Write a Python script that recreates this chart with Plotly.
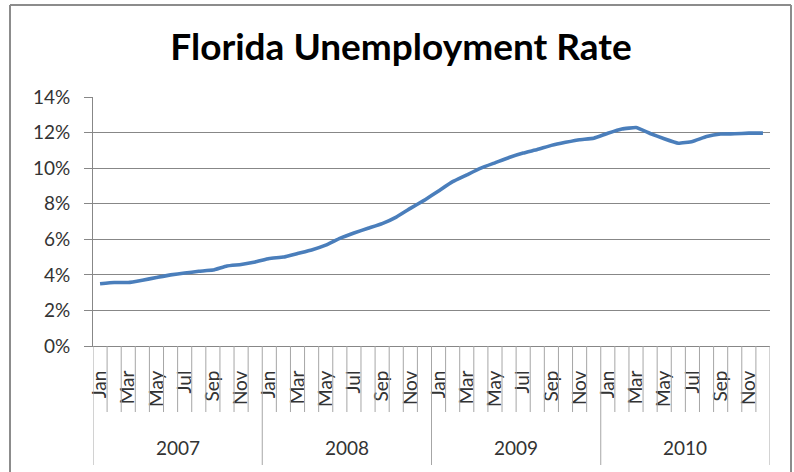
import plotly.graph_objects as go

years = ["2007", "2008", "2009", "2010"]
months = ["Jan", "Feb", "Mar", "Apr", "May", "Jun", "Jul", "Aug", "Sep", "Oct", "Nov", "Dec"]
rate_2007 = [3.50, 3.57, 3.57, 3.70, 3.85, 4.00, 4.10, 4.20, 4.27, 4.50, 4.58, 4.72]
rate_2008 = [4.92, 5.00, 5.20, 5.40, 5.67, 6.05, 6.35, 6.62, 6.88, 7.25, 7.74, 8.20]
rate_2009 = [8.72, 9.24, 9.62, 10.00, 10.30, 10.60, 10.85, 11.05, 11.28, 11.45, 11.60, 11.68]
rate_2010 = [11.96, 12.20, 12.28, 11.95, 11.65, 11.40, 11.50, 11.78, 11.92, 11.93, 11.97, 11.97]
y_ticks = [0, 2, 4, 6, 8, 10, 12, 14]

values = rate_2007 + rate_2008 + rate_2009 + rate_2010
n = len(values)
idx = list(range(n))
labels = [months[i % 12] for i in idx]

W, H = 794, 472
L, R, T, B = 93, 770, 97, 346  # plot area in px
pw, ph = R - L, B - T

def py(p):  # pixel y -> paper y
    return (B - p) / ph

def px(p):  # pixel x -> paper x
    return (p - L) / pw

FONT = "Lato"
GRID = "#878787"

fig = go.Figure()
fig.add_trace(go.Scatter(x=idx, y=values, mode="lines",
                         line=dict(color="#4A7EBB", width=3.6, shape="spline", smoothing=0.3),
                         hoverinfo="skip", showlegend=False))

shapes = []
for i in range(n + 1):
    is_year = (i % 12 == 0)
    shapes.append(dict(type="line", xref="x", yref="paper",
                       x0=i - 0.5, x1=i - 0.5, y0=0, y1=py(465) if is_year else py(412),
                       line=dict(color="#A6A6A6", width=1)))
# outer chart border (left, top, right)
for (x0, y0, x1, y1) in [(10, 5, 10, 480), (10, 5, 791, 5), (791, 5, 791, 480)]:
    shapes.append(dict(type="line", xref="paper", yref="paper",
                       x0=px(x0), x1=px(x1), y0=py(y0), y1=py(y1),
                       line=dict(color="#8C8C8C", width=2), layer="below"))

annotations = []
for k, yr in enumerate(years):
    annotations.append(dict(xref="x", yref="paper", x=k * 12 + 5.5, y=py(447),
                            text=yr, showarrow=False, xanchor="center", yanchor="middle",
                            font=dict(family=FONT, size=19, color="#333333")))

fig.update_layout(
    width=W, height=H,
    margin=dict(l=L, r=W - R, t=T, b=H - B, pad=0, autoexpand=False),
    paper_bgcolor="white", plot_bgcolor="white",
    title=dict(text="<b>Florida Unemployment Rate</b>", x=401 / W, xanchor="center",
               y=1 - 47 / H, yanchor="middle", automargin=False,
               font=dict(family=FONT, size=37, color="#000000")),
    shapes=shapes, annotations=annotations,
    xaxis=dict(range=[-0.5, n - 0.5], tickmode="array", automargin=False,
               tickvals=idx[::2], ticktext=labels[::2], tickangle=-90,
               ticks="", showgrid=False, showline=True, linecolor=GRID, linewidth=1,
               ticklabelstandoff=16, zeroline=False,
               tickfont=dict(family=FONT, size=19, color="#333333")),
    yaxis=dict(range=[0, 14], tickmode="array", tickvals=y_ticks, automargin=False,
               ticktext=[f"{v}%" for v in y_ticks],
               ticks="outside", ticklen=8, tickcolor=GRID,
               showgrid=True, gridcolor=GRID, gridwidth=1,
               showline=True, linecolor=GRID, linewidth=1, zeroline=False,
               ticklabelstandoff=10,
               tickfont=dict(family=FONT, size=19, color="#333333")),
)

fig.write_html("out.html", config={"displayModeBar": False},
               post_script="document.body.style.margin='0';document.body.style.overflow='hidden';")
